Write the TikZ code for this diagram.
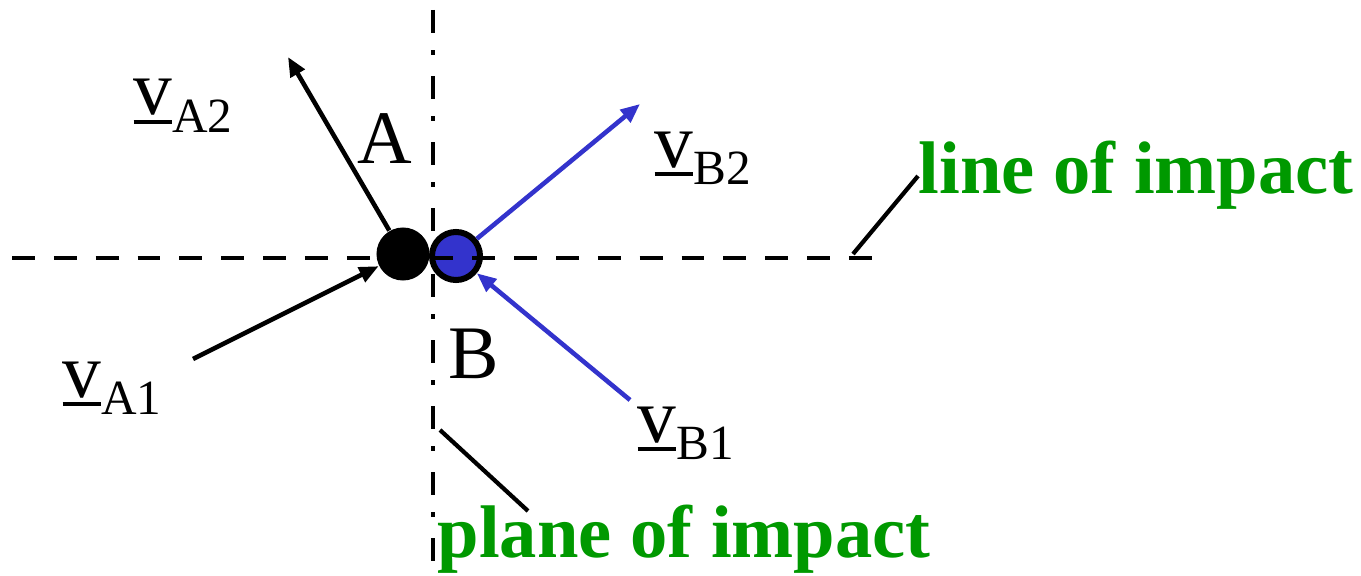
\documentclass[tikz,border=0pt]{standalone}
\usepackage{fontspec}
\setmainfont{Liberation Serif}
\usetikzlibrary{arrows.meta}
\definecolor{ballblue}{RGB}{51,51,204}
\definecolor{impgreen}{RGB}{0,153,0}
\newcommand{\velo}[1]{\fontsize{22}{26}\selectfont\rlap{\rule[-2.6pt]{0.5em}{1.1pt}}v\raisebox{-5pt}{\fontsize{14}{17}\selectfont #1}}
\begin{document}
\begin{tikzpicture}[
  x=0.01cm,y=-0.01cm,
  >={Triangle[length=5.5pt,width=4.5pt]},
  ax/.style={line width=1.4pt,dash pattern=on 6.5pt off 5.4pt},
  plane/.style={line width=1.4pt,dash pattern=on 6.54pt off 4.84pt on 1.42pt off 5.97pt},
  vel/.style={->,line width=1.3pt},
  lbl/.style={anchor=base west,inner sep=0pt},
  big/.style={lbl,font=\fontsize{21.5}{26}\selectfont},
  tag/.style={lbl,text=impgreen,font=\bfseries\fontsize{21.2}{25}\selectfont},
  lead/.style={line width=1.2pt}
]
\useasboundingbox (0,0) rectangle (1361,576);
% the two balls
\node[circle,fill=black,minimum size=0.53cm,inner sep=0pt] (ballA) at (403,254) {};
\node[circle,fill=ballblue,draw=black,line width=0.06cm,minimum size=0.48cm,inner sep=0pt] (ballB) at (456,256) {};
% line of impact and plane of impact
\coordinate (hl) at (12,258);
\coordinate (hr) at (876,258);
\draw[ax] (hl) -- (hr);
\coordinate (vt) at (433,10);
\coordinate (vb) at (433,576);
\draw[plane] (vt) -- (vb);
% velocities of A
\coordinate (tA2) at (288,57);
\draw[vel] (ballA) -- (tA2);
\coordinate (sA1) at (193,359);
\draw[vel] (sA1) -- (ballA);
% velocities of B
\coordinate (tB2) at (640,104);
\draw[vel,ballblue] (ballB) -- (tB2);
\coordinate (sB1) at (630,400);
\draw[vel,ballblue] (sB1) -- (ballB);
% velocity labels
\node[lbl] (vA2) at (133,115) {\velo{A2}};
\node[lbl] (vA1) at (62,397) {\velo{A1}};
\node[lbl] (vB2) at (654,167) {\velo{B2}};
\node[lbl] (vB1) at (637,442) {\velo{B1}};
% ball names
\node[big] (nA) at (357,163) {A};
\node[big] (nB) at (448,378) {B};
% leaders and tags
\coordinate (li0) at (853,254);
\coordinate (li1) at (918,176);
\draw[lead] (li0) -- (li1);
\node[tag] (loi) at (918,193) {line of impact};
\coordinate (pl0) at (440,430);
\coordinate (pl1) at (528,511);
\draw[lead] (pl0) -- (pl1);
\node[tag] (poi) at (437,557) {plane of impact};
\end{tikzpicture}
\end{document}
